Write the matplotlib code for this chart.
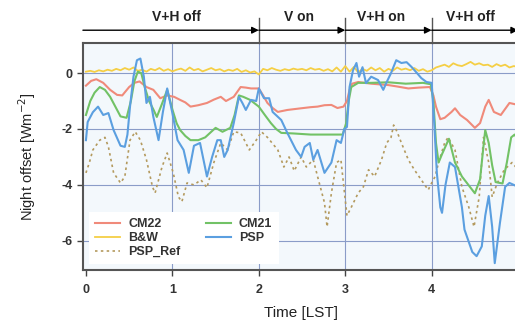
import numpy as np
import matplotlib
matplotlib.use("Agg")
import matplotlib.pyplot as plt

plt.rcParams['font.family'] = ['Liberation Sans', 'DejaVu Sans']
plt.rcParams['axes.unicode_minus'] = False

# ---------------- data ----------------
cm22_t = [0.0, 0.06, 0.12, 0.2, 0.28, 0.36, 0.42, 0.5, 0.56, 0.62, 0.7, 0.78, 0.86, 0.94, 1.02, 1.09,
          1.15, 1.21, 1.3, 1.4, 1.48, 1.56, 1.62, 1.71, 1.79, 1.85, 1.91, 2.0, 2.05, 2.1, 2.16, 2.22,
          2.33, 2.49, 2.6, 2.68, 2.76, 2.84, 2.91, 2.98, 3.02, 3.05, 3.08, 3.15, 3.3, 3.5, 3.6, 3.73,
          3.85, 3.98, 4.02, 4.05, 4.1, 4.15, 4.23, 4.27, 4.33, 4.41, 4.5, 4.56, 4.62, 4.66, 4.72, 4.8,
          4.9, 5.0]
cm22_v = [-0.45, -0.28, -0.22, -0.35, -0.6, -0.78, -0.8, -0.5, -0.35, -0.3, -0.5, -0.6, -0.9, -0.8,
          -0.85, -0.96, -1.05, -1.2, -1.15, -1.07, -0.95, -0.85, -1.0, -0.85, -0.5, -0.52, -0.55, -0.55,
          -0.8, -1.07, -1.25, -1.39, -1.32, -1.26, -1.22, -1.2, -1.15, -1.14, -1.25, -1.2, -1.0, -0.6,
          -0.38, -0.32, -0.38, -0.43, -0.48, -0.55, -0.52, -0.5, -0.8, -1.2, -1.65, -1.6, -1.39, -1.26,
          -1.5, -1.68, -1.96, -1.79, -1.2, -0.96, -1.39, -1.5, -1.07, -1.14]

cm21_t = [0.0, 0.05, 0.1, 0.16, 0.22, 0.28, 0.34, 0.4, 0.47, 0.52, 0.56, 0.6, 0.64, 0.68, 0.73, 0.78,
          0.82, 0.88, 0.94, 1.0, 1.05, 1.09, 1.15, 1.21, 1.3, 1.38, 1.45, 1.5, 1.58, 1.67, 1.72, 1.77,
          1.82, 1.9, 2.0, 2.07, 2.14, 2.2, 2.26, 2.4, 2.6, 2.8, 2.97, 3.01, 3.04, 3.07, 3.15, 3.3, 3.5,
          3.7, 3.9, 3.99, 4.02, 4.05, 4.08, 4.12, 4.2, 4.27, 4.35, 4.45, 4.5, 4.56, 4.6, 4.62, 4.66,
          4.7, 4.74, 4.82, 4.87, 4.92, 4.96, 5.0]
cm21_v = [-1.5, -1.0, -0.7, -0.5, -0.6, -0.85, -1.2, -1.55, -1.6, -1.0, -0.3, 0.05, 0.0, -0.5, -1.0,
          -1.3, -1.57, -1.1, -0.6, -1.3, -1.8, -2.04, -2.25, -2.4, -2.4, -2.3, -2.1, -1.96, -2.1, -1.96,
          -1.5, -0.8, -0.85, -0.96, -1.2, -1.5, -1.79, -2.0, -2.14, -2.16, -2.2, -2.2, -2.2, -1.8, -1.0,
          -0.5, -0.35, -0.35, -0.33, -0.38, -0.35, -0.4, -1.0, -2.5, -3.2, -2.9, -2.35, -3.2, -3.7,
          -4.1, -4.3, -3.8, -2.6, -2.04, -2.5, -3.3, -3.9, -3.95, -3.2, -2.3, -2.2, -2.4]

psp_t = [0.0, 0.02, 0.08, 0.14, 0.2, 0.26, 0.32, 0.4, 0.45, 0.48, 0.51, 0.55, 0.59, 0.63, 0.67, 0.7,
         0.74, 0.78, 0.84, 0.89, 0.94, 1.0, 1.06, 1.13, 1.19, 1.25, 1.32, 1.4, 1.46, 1.52, 1.56, 1.6,
         1.64, 1.71, 1.77, 1.81, 1.85, 1.91, 1.97, 2.0, 2.06, 2.12, 2.16, 2.26, 2.33, 2.43, 2.49, 2.53,
         2.59, 2.63, 2.68, 2.76, 2.84, 2.9, 2.95, 2.99, 3.02, 3.05, 3.09, 3.13, 3.16, 3.2, 3.24, 3.3,
         3.38, 3.44, 3.48, 3.53, 3.59, 3.65, 3.71, 3.77, 3.83, 3.88, 3.94, 4.0, 4.03, 4.06, 4.1, 4.12,
         4.16, 4.21, 4.27, 4.35, 4.38, 4.47, 4.52, 4.58, 4.62, 4.66, 4.7, 4.73, 4.79, 4.85, 4.9, 5.0]
psp_v = [-2.4, -1.75, -1.4, -1.2, -1.5, -1.43, -2.04, -2.6, -2.64, -2.2, -1.2, -0.13, 0.46, 0.52,
         -0.13, -1.07, -0.85, -1.57, -2.4, -1.4, -0.55, -1.43, -2.4, -2.75, -3.57, -2.6, -2.5, -3.7,
         -3.0, -2.4, -2.4, -3.0, -2.75, -1.79, -0.85, -1.07, -1.32, -0.96, -1.0, -0.55, -0.9, -0.9,
         -1.39, -1.68, -2.14, -2.75, -3.0, -2.64, -2.5, -3.1, -2.75, -3.57, -3.2, -2.4, -2.5, -2.0,
         -1.93, -0.5, 0.1, 0.36, -0.13, 0.21, -0.36, -0.13, -0.25, -0.6, -0.32, 0.0, 0.46, 0.36, 0.39,
         0.21, 0.0, -0.18, -0.32, -0.35, -1.79, -3.57, -4.8, -5.0, -4.0, -3.2, -3.36, -4.8, -5.6, -6.4,
         -6.55, -6.2, -5.1, -4.4, -5.5, -6.8, -5.36, -4.07, -3.93, -4.07]

ref_t = [0.0, 0.04, 0.08, 0.16, 0.22, 0.26, 0.32, 0.4, 0.45, 0.51, 0.57, 0.63, 0.7, 0.77, 0.8, 0.88,
         0.94, 1.01, 1.07, 1.11, 1.17, 1.25, 1.33, 1.4, 1.48, 1.56, 1.64, 1.71, 1.79, 1.85, 1.89, 1.97,
         2.03, 2.1, 2.22, 2.29, 2.35, 2.41, 2.49, 2.55, 2.63, 2.68, 2.76, 2.79, 2.84, 2.9, 2.95, 3.02,
         3.07, 3.15, 3.21, 3.27, 3.34, 3.42, 3.48, 3.53, 3.56, 3.6, 3.65, 3.73, 3.8, 3.88, 3.96, 4.0,
         4.04, 4.08, 4.15, 4.19, 4.27, 4.35, 4.43, 4.49, 4.55, 4.6, 4.66, 4.7, 4.76, 4.84, 4.93, 5.0]
ref_v = [-3.57, -3.2, -2.75, -2.4, -2.3, -2.64, -3.57, -3.93, -3.7, -2.4, -2.1, -2.4, -3.1, -4.07,
         -4.29, -3.36, -2.86, -3.57, -4.43, -4.6, -3.93, -4.0, -3.82, -4.1, -3.2, -2.5, -2.75, -2.1,
         -2.14, -2.5, -2.75, -2.4, -2.1, -2.3, -2.75, -3.36, -3.0, -3.5, -3.0, -3.36, -3.1, -3.7,
         -4.64, -5.5, -4.29, -3.2, -3.1, -5.1, -4.8, -4.29, -4.07, -3.46, -3.7, -3.1, -2.5, -2.3,
         -1.86, -2.1, -2.5, -3.1, -3.46, -3.82, -4.18, -3.93, -3.7, -3.2, -2.5, -2.3, -2.75, -4.07,
         -4.8, -5.5, -4.43, -2.3, -3.2, -4.43, -3.93, -3.46, -3.2, -3.46]

bw_v = [0.05, 0.08, 0.04, 0.10, 0.06, 0.12, 0.08, 0.15, 0.10, 0.18, 0.12,
        0.20, 0.08, 0.12, 0.05, 0.15, 0.10, 0.18, 0.08, 0.14, 0.06,
        0.12, 0.16, 0.08, 0.20, 0.10, 0.15, 0.06, 0.12, 0.18, 0.10,
        0.14, 0.06, 0.12, 0.08, 0.15, 0.04, 0.10, 0.02, 0.06, -0.05,
        0.15, 0.10, 0.18, 0.12, 0.08, 0.14, 0.10, 0.16, 0.12, 0.15,
        0.10, 0.18, 0.12, 0.15, 0.08, 0.14, 0.06, 0.20, 0.05, 0.25,
        0.05, 0.22, 0.02, 0.15, 0.08, 0.20, 0.10, 0.18, 0.05, 0.15,
        0.08, 0.20, 0.12, 0.16, 0.10, 0.18, 0.08, 0.14, 0.05, 0.10,
        0.20, 0.25, 0.30, 0.22, 0.35, 0.28, 0.25, 0.32, 0.40, 0.30,
        0.35, 0.28, 0.30, 0.22, 0.32, 0.25, 0.30, 0.20, 0.25, 0.22]
bw_t = np.linspace(0, 5, len(bw_v))

phase_starts = [-0.035, 2, 3, 4]
phase_ends = [2, 3, 4, 5]
phase_labels = ["V+H off", "V on", "V+H on", "V+H off"]
phase_label_x = [1.05, 2.47, 3.42, 4.45]

xticks = [0, 1, 2, 3, 4, 5]
yticks = [0, -2, -4, -6]

# ---------------- figure ----------------
fig = plt.figure(figsize=(5.15, 3.22), dpi=100)
ax = fig.add_axes([0.161, 0.161, 0.845, 0.705])
ax.set_facecolor('#f3f8fc')

ax.set_xlim(-0.035, 5.0)
ax.set_ylim(-7.05, 1.07)

for x in [1, 2, 3, 4]:
    ax.axvline(x, color='#8a9cc8', lw=0.8, zorder=1)
for y in yticks:
    ax.axhline(y, color='#8a9cc8', lw=0.8, zorder=1)

c_red = '#f08a7a'
c_yel = '#f5cf45'
c_grn = '#72c266'
c_blu = '#5b9fe0'
c_ref = '#b49a5e'

ax.plot(cm22_t, cm22_v, color=c_red, lw=1.5, label='CM22', zorder=3)
ax.plot(bw_t, bw_v, color=c_yel, lw=1.3, label='B&W', zorder=3)
ax.plot(ref_t, ref_v, color=c_ref, lw=1.2, ls=(0, (1.5, 2.0)), label='PSP_Ref', zorder=3)
ax.plot(cm21_t, cm21_v, color=c_grn, lw=1.5, label='CM21', zorder=3)
ax.plot(psp_t, psp_v, color=c_blu, lw=1.5, label='PSP', zorder=4)

ax.set_xticks(xticks)
ax.set_yticks(yticks)
ax.set_xticklabels([str(v) for v in xticks], fontweight='bold')
ax.set_yticklabels([str(v) for v in yticks], fontweight='bold')
ax.tick_params(axis='both', direction='out', length=4, width=1, colors='#444444',
               labelsize=9, labelcolor='#333333')
ax.tick_params(axis='x', pad=6)
for s in ax.spines.values():
    s.set_color('#555555')
    s.set_linewidth(1.5)

ax.set_xlabel('Time [LST]', fontsize=11, color='#222222', labelpad=7)
ax.set_ylabel('Night offset [Wm$^{-2}$]', fontsize=10.5, color='#222222', labelpad=17)

leg = ax.legend(ncol=2, loc='upper left', bbox_to_anchor=(0.0, 0.283),
                prop={'size': 9, 'weight': 'bold'},
                frameon=True, facecolor='white', edgecolor='none', framealpha=1,
                handlelength=2.0, handletextpad=0.65, columnspacing=2.0,
                labelspacing=0.15, borderpad=0.5)
leg.get_frame().set_boxstyle('square', pad=0)
for t in leg.get_texts():
    t.set_color('#333333')

# phase annotations above the axes
for s, e, lab, lx in zip(phase_starts, phase_ends, phase_labels, phase_label_x):
    ax.annotate('', xy=(e, 1.057), xytext=(s, 1.057), xycoords=('data', 'axes fraction'),
                textcoords=('data', 'axes fraction'),
                arrowprops=dict(arrowstyle='-|>', color='black', lw=1.0,
                                mutation_scale=10, shrinkA=0, shrinkB=0),
                annotation_clip=False)
    ax.text(lx, 1.113, lab, transform=ax.get_xaxis_transform(),
            ha='center', va='center', fontsize=10, fontweight='bold', color='#222222',
            clip_on=False)
for x in [2, 3, 4]:
    ax.plot([x, x], [1.0, 1.11], transform=ax.get_xaxis_transform(), color='#555555',
            lw=1.0, clip_on=False)

fig.savefig('out.png', dpi=100)
